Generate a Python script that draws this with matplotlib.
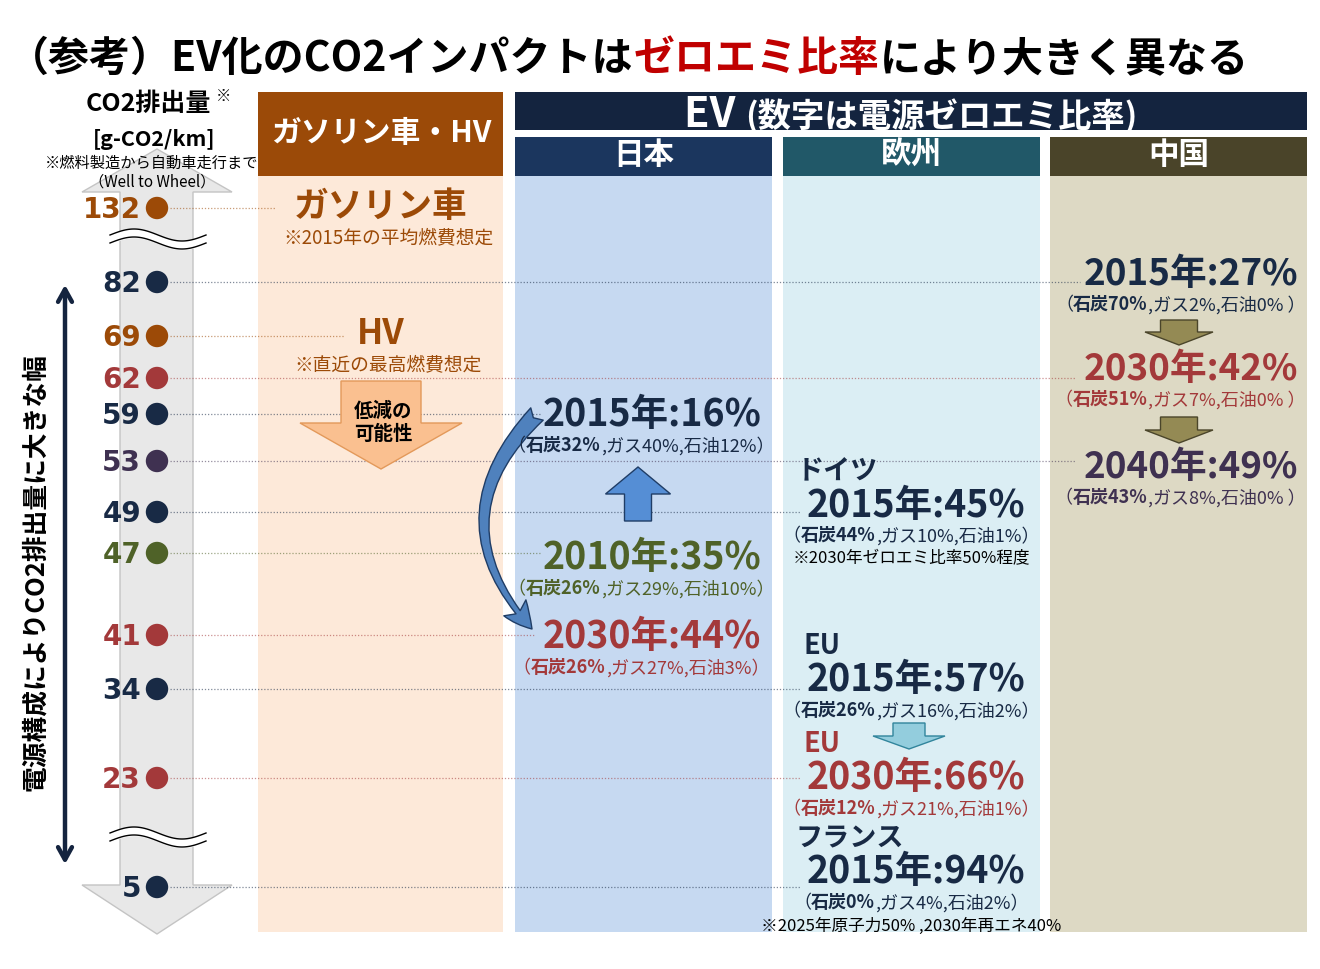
import numpy as np
import matplotlib.pyplot as plt
from matplotlib.patches import Rectangle, Polygon, FancyArrowPatch

plt.rcParams['font.family'] = ['Noto Sans CJK JP', 'DejaVu Sans']

# ---- data ----
co2_levels = [132, 82, 69, 62, 59, 53, 49, 47, 41, 34, 23, 5]

ice_labels = ['ガソリン車', 'HV']
ice_notes = ['※2015年の平均燃費想定', '※直近の最高燃費想定']
ice_co2 = [132, 69]

jp_years = [2015, 2010, 2030]
jp_zero = [16, 35, 44]
jp_coal = [32, 26, 26]
jp_gas = [40, 29, 27]
jp_oil = [12, 10, 3]
jp_co2 = [59, 47, 41]

eu_names = ['ドイツ', 'EU', 'EU', 'フランス']
eu_years = [2015, 2015, 2030, 2015]
eu_zero = [45, 57, 66, 94]
eu_coal = [44, 26, 12, 0]
eu_gas = [10, 16, 21, 4]
eu_oil = [1, 2, 1, 2]
eu_co2 = [49, 34, 23, 5]
eu_notes = ['※2030年ゼロエミ比率50%程度', '', '', '※2025年原子力50% ,2030年再エネ40%']

cn_years = [2015, 2030, 2040]
cn_zero = [27, 42, 49]
cn_coal = [70, 51, 43]
cn_gas = [2, 7, 8]
cn_oil = [0, 0, 0]
cn_co2 = [82, 62, 53]

# ---- layout (pixels) ----
level_y = dict(zip(co2_levels, [209, 283, 337, 379, 415, 462, 513, 554, 636, 690, 779, 888]))
line_end = dict(zip(co2_levels, [275, 1080, 345, 1075, 540, 1075, 800, 540, 535, 800, 800, 800]))

BROWN = '#9C4A07'
NAVY = '#182A45'
RED = '#A3393A'
OLIVE = '#4F6228'
PURPLE = '#3F3151'
year_color = {2010: OLIVE, 2015: NAVY, 2030: RED, 2040: PURPLE}

level_color = {}
for v in ice_co2:
    level_color[v] = BROWN
for yrs, vals in [(jp_years, jp_co2), (eu_years, eu_co2), (cn_years, cn_co2)]:
    for yr, v in zip(yrs, vals):
        level_color[v] = year_color[yr]

fig = plt.figure(figsize=(13.2, 9.7), dpi=100)
ax = fig.add_axes([0, 0, 1, 1])
ax.set_xlim(0, 1320)
ax.set_ylim(970, 0)
ax.axis('off')
renderer = fig.canvas.get_renderer()


def put_runs(x, y, parts, ha='center', va='center', zorder=5):
    items = []
    total = 0
    for s, kw in parts:
        t = ax.text(0, y, s, ha='left', va=va, zorder=zorder, **kw)
        w = t.get_window_extent(renderer).width
        items.append((t, w))
        total += w
    x0 = x - total / 2 if ha == 'center' else x
    for t, w in items:
        t.set_x(x0)
        x0 += w


def mix_parts(coal, gas, oil, color, size=13, tail=''):
    return [('（', dict(color=color, fontsize=size)),
            (f'石炭{coal}%', dict(color=color, fontsize=size, fontweight='bold')),
            (f',ガス{gas}%,石油{oil}%{tail}）', dict(color=color, fontsize=size))]


def block_arrow(cx, y0, y1, shaft_w, head_w, head_len, fc, ec, lw=1.0):
    # y0 = tail end, y1 = tip (works both up and down)
    d = 1 if y1 > y0 else -1
    yb = y1 - d * head_len
    pts = [(cx - shaft_w / 2, y0), (cx + shaft_w / 2, y0), (cx + shaft_w / 2, yb),
           (cx + head_w / 2, yb), (cx, y1), (cx - head_w / 2, yb), (cx - shaft_w / 2, yb)]
    ax.add_patch(Polygon(pts, closed=True, fc=fc, ec=ec, lw=lw, zorder=3))


# ---- title ----
put_runs(8, 59, [('（参考）EV化のCO2インパクトは', dict(color='black', fontsize=29.5, fontweight='bold')),
                 ('ゼロエミ比率', dict(color='#C00000', fontsize=29.5, fontweight='bold')),
                 ('により大きく異なる', dict(color='black', fontsize=29.5, fontweight='bold'))], ha='left')

# ---- column backgrounds & headers ----
cols = [(258, 503, '#FDE9D9'), (515, 772, '#C6D9F1'), (783, 1040, '#DBEEF4'), (1050, 1307, '#DDD9C4')]
for x0, x1, c in cols:
    ax.add_patch(Rectangle((x0, 177), x1 - x0, 756, fc=c, ec='none', zorder=0))

ax.add_patch(Rectangle((258, 93), 245, 84, fc='#9B4A08', ec='none', zorder=1))
ax.text(381, 133, 'ガソリン車・HV', color='white', fontsize=21.5, fontweight='bold', ha='center', va='center')
ax.add_patch(Rectangle((515, 93), 792, 38, fc='#14243F', ec='none', zorder=1))
put_runs(911, 127, [('EV ', dict(color='white', fontsize=30, fontweight='bold')),
                    ('(数字は電源ゼロエミ比率)', dict(color='white', fontsize=24, fontweight='bold'))],
         va='baseline')
sub_heads = [('日本', 515, 772, '#1B365E'), ('欧州', 783, 1040, '#215868'), ('中国', 1050, 1307, '#4A4429')]
for name, x0, x1, c in sub_heads:
    ax.add_patch(Rectangle((x0, 138), x1 - x0, 39, fc=c, ec='none', zorder=1))
    ax.text((x0 + x1) / 2, 155, name, color='white', fontsize=22, fontweight='bold', ha='center', va='center')

# ---- left scale ----
scale = [(120, 193), (82, 193), (157, 150), (232, 193), (193, 193), (193, 886),
         (232, 886), (157, 935), (82, 886), (120, 886)]
ax.add_patch(Polygon(scale, closed=True, fc='#E8E8E8', ec='#C4C4C4', lw=1, zorder=1))

ax.text(148, 104, 'CO2排出量', fontsize=18, fontweight='bold', ha='center', va='center')
ax.text(224, 96, '※', fontsize=11, fontweight='bold', ha='center', va='center')
ax.text(154, 140, '[g-CO2/km]', fontsize=15.5, fontweight='bold', ha='center', va='center')
ax.text(152, 163, '※燃料製造から自動車走行まで', fontsize=11, ha='center', va='center', zorder=5)
ax.text(152, 182, '（Well to Wheel）', fontsize=11, ha='center', va='center', zorder=5)

for yb in [240, 838]:
    xs = np.linspace(110, 206, 80)
    wave = -6 * np.sin((xs - 110) / 96 * 2 * np.pi)
    ax.fill_between(xs, yb - 4 + wave, yb + 4 + wave, color='white', zorder=2)
    ax.plot(xs, yb - 4 + wave, color='black', lw=1, zorder=2)
    ax.plot(xs, yb + 4 + wave, color='black', lw=1, zorder=2)

for v in co2_levels:
    y = level_y[v]
    c = level_color[v]
    ax.plot([170, line_end[v]], [y, y], color=c, lw=0.9, ls=(0, (1, 1.5)), alpha=0.55, zorder=2)
    ax.text(141, y + 1, str(v), color=c, fontsize=20, fontweight='bold', ha='right', va='center',
            family='DejaVu Sans', zorder=5)
ax.scatter([157] * len(co2_levels), [level_y[v] for v in co2_levels], s=260,
           c=[level_color[v] for v in co2_levels], zorder=4, linewidths=0)

ax.annotate('', xy=(65, 283), xytext=(65, 868),
            arrowprops=dict(arrowstyle='<->,head_length=0.9,head_width=0.5', color='#14243F', lw=3.2))
ax.text(35, 572, '電源構成によりCO2排出量に大きな幅', rotation=90, fontsize=18.5, fontweight='bold',
        ha='center', va='center')

# ---- gasoline / HV column ----
ice_dy = [-2, -3]
for lab, note, v, dy in zip(ice_labels, ice_notes, ice_co2, ice_dy):
    y = level_y[v] + dy
    ax.text(381, y, lab, color=BROWN, fontsize=25, fontweight='bold', ha='center', va='center')
    ax.text(388, y + 31, note, color=BROWN, fontsize=13.5, ha='center', va='center')

block_arrow(381, 382, 470, 80, 162, 46, '#FAC090', '#E3995A')
ax.text(383, 423, '低減の\n可能性', fontsize=14, fontweight='bold', ha='center', va='center',
        linespacing=1.25, zorder=5)

# ---- Japan ----
jp_dy = [0, 4, 1]
for yr, z, co, ga, oi, v, dy in zip(jp_years, jp_zero, jp_coal, jp_gas, jp_oil, jp_co2, jp_dy):
    c = year_color[yr]
    y = level_y[v] + dy
    ax.text(652, y, f'{yr}年:{z}%', color=c, fontsize=27, fontweight='bold', ha='center', va='center')
    put_runs(641, y + 31, mix_parts(co, ga, oi, c))

block_arrow(638, 522, 468, 27, 65, 27, '#558ED5', '#1F3D66')
ax.add_patch(FancyArrowPatch((537, 415), (532, 630), connectionstyle='arc3,rad=0.47',
                             arrowstyle='fancy,head_length=0.7,head_width=0.7,tail_width=0.45',
                             mutation_scale=28, fc='#4F81BD', ec='#1F3D66', lw=1, zorder=3,
                             shrinkA=0, shrinkB=0))

# ---- Europe ----
eu_dy = [-8, -10, -1, -16]
eu_name_x = [797, 803, 803, 795]
for nm, nx, yr, z, co, ga, oi, v, dy, note in zip(eu_names, eu_name_x, eu_years, eu_zero, eu_coal,
                                                  eu_gas, eu_oil, eu_co2, eu_dy, eu_notes):
    c = year_color[yr]
    y = level_y[v] + dy
    ax.text(nx, y - 34, nm, color=c, fontsize=19.5, fontweight='bold', ha='left', va='center')
    ax.text(916, y, f'{yr}年:{z}%', color=c, fontsize=27, fontweight='bold', ha='center', va='center')
    put_runs(911, y + 31, mix_parts(co, ga, oi, c))
    if note:
        ax.text(911, y + 54, note, fontsize=12, ha='center', va='center', zorder=5)

block_arrow(909, 724, 750, 32, 72, 13, '#93CDDD', '#31859C')

# ---- China ----
cn_dy = [-8, -9, 6]
for yr, z, co, ga, oi, v, dy in zip(cn_years, cn_zero, cn_coal, cn_gas, cn_oil, cn_co2, cn_dy):
    c = year_color[yr]
    y = level_y[v] + dy
    ax.text(1191, y, f'{yr}年:{z}%', color=c, fontsize=26.5, fontweight='bold', ha='center', va='center')
    put_runs(1180, y + 30, mix_parts(co, ga, oi, c, tail=' '))

block_arrow(1179, 321, 346, 37, 68, 13, '#948A54', '#4A452A')
block_arrow(1179, 418, 444, 37, 68, 13, '#948A54', '#4A452A')

fig.savefig('out.png', dpi=100)
